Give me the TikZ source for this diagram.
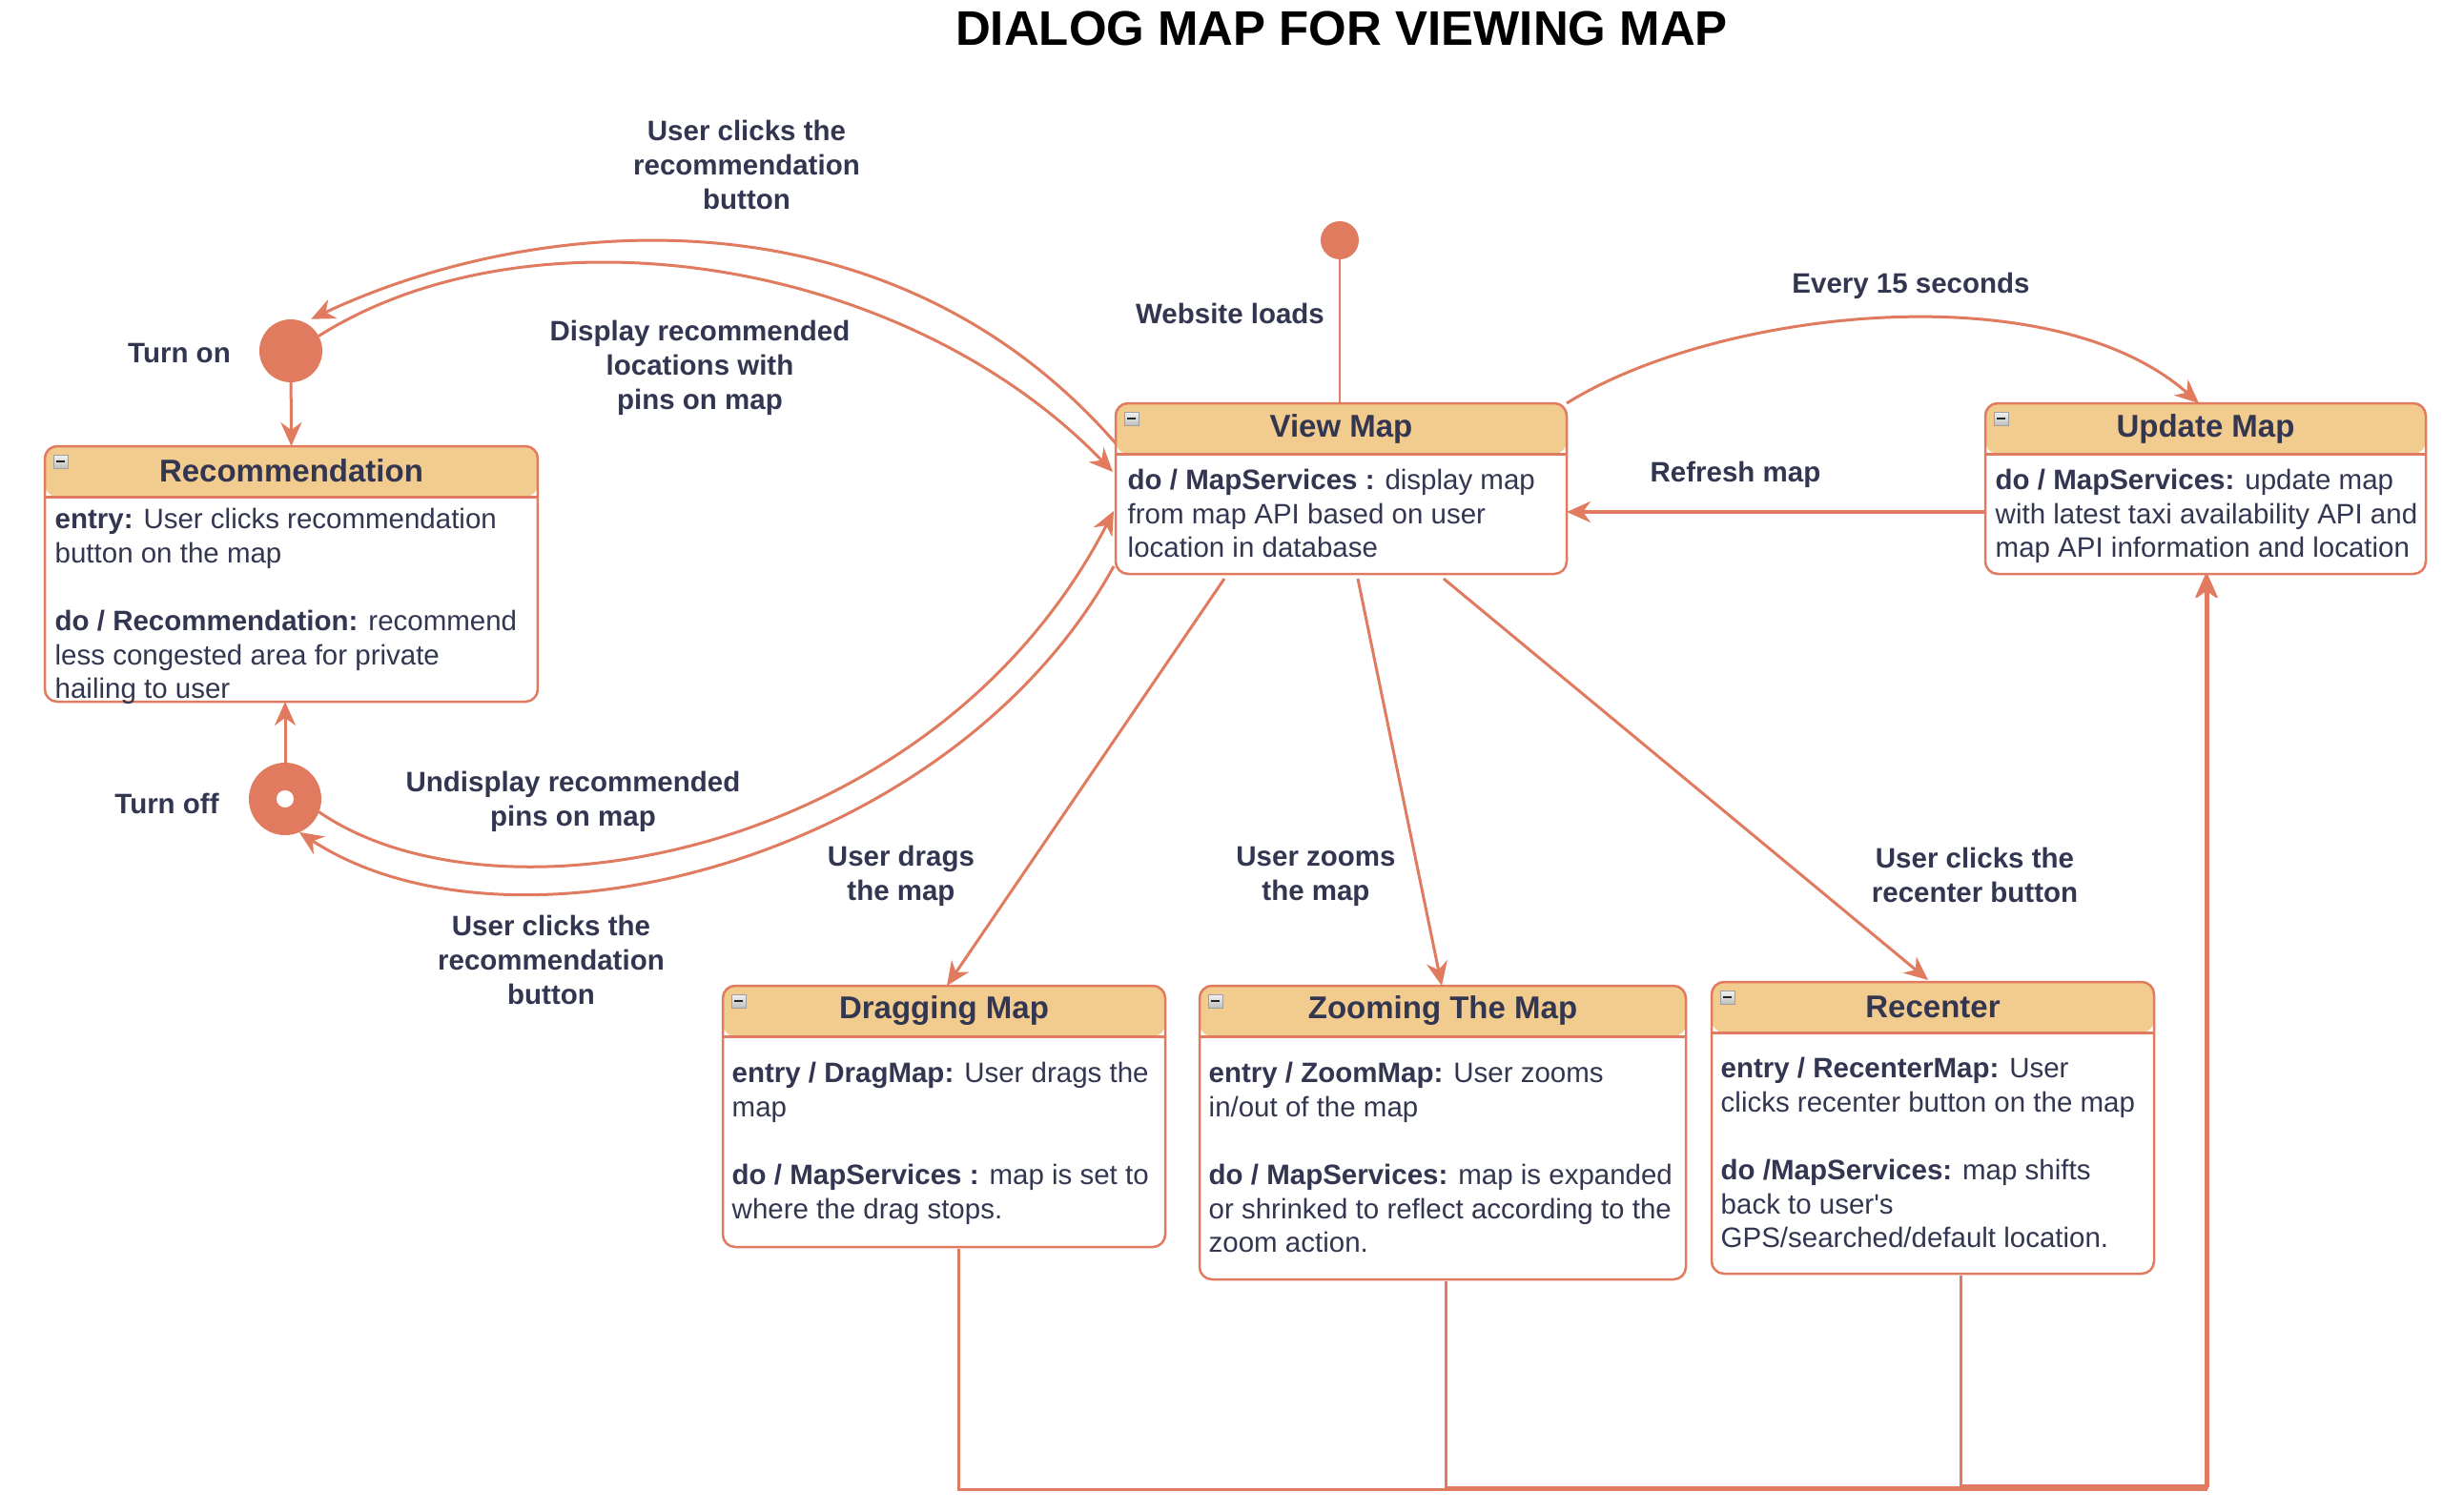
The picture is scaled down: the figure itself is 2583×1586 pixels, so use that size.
\documentclass[tikz,border=0pt]{standalone}
\usepackage{fontspec}
\setmainfont{Liberation Sans}[Ligatures=TeXOff]
\usetikzlibrary{arrows.meta,calc}
\definecolor{lc}{HTML}{E07B5F}
\definecolor{hdr}{HTML}{F2CB8E}
\definecolor{txt}{HTML}{333650}
\begin{document}
\begin{tikzpicture}[x=0.1mm,y=-0.1mm,
  statebox/.style={draw=lc, line width=0.25mm, rounded corners=1.3mm, inner sep=0, outer sep=0, anchor=north west,
    path picture={\fill[hdr] (path picture bounding box.north west) rectangle ([yshift=-5.3mm]path picture bounding box.north east);
      \draw[lc, line width=0.3mm] ([yshift=-5.3mm]path picture bounding box.north west) -- ([yshift=-5.3mm]path picture bounding box.north east);}},
  hdrtext/.style={font=\bfseries\fontsize{9.39}{11}\selectfont, text=txt, inner sep=0},
  body/.style={font=\fontsize{8.39}{10.13}\selectfont, text=txt, align=left, inner sep=0, anchor=north west},
  lab/.style={font=\bfseries\fontsize{8.39}{10.24}\selectfont, text=txt, align=center, inner sep=0},
  conn/.style={draw=lc, line width=0.3mm, -{Stealth[length=2.5mm,width=2.2mm,inset=0.8mm]}},
  dot/.style={circle, fill=lc, inner sep=0, outer sep=0}
]
\useasboundingbox (0,0) rectangle (2583,1586);
\fill[white] (0,0) rectangle (2583,1586);

% title
\node[font=\bfseries\fontsize{14.5}{17}\selectfont, text=black, inner sep=0] (title) at (1407,30) {DIALOG MAP FOR VIEWING MAP};

% state boxes
\node[statebox, minimum width=51.7mm, minimum height=26.8mm] (rec) at (47,468) {};
\node[statebox, minimum width=47.3mm, minimum height=17.9mm] (view) at (1170,423) {};
\node[statebox, minimum width=46.2mm, minimum height=17.9mm] (upd) at (2082,423) {};
\node[statebox, minimum width=46.4mm, minimum height=27.4mm] (drag) at (758,1034) {};
\node[statebox, minimum width=51.0mm, minimum height=30.8mm] (zoom) at (1258,1034) {};
\node[statebox, minimum width=46.4mm, minimum height=30.6mm] (recen) at (1795,1030) {};

% collapse icons
\foreach \b in {rec,view,upd,drag,zoom,recen}{
  \shade[top color=gray!10, bottom color=gray!50, draw=gray!75, line width=0.1mm] ($(\b.north west)+(9,9)$) rectangle ++(15,14);
  \draw[black!85, line width=0.2mm] ($(\b.north west)+(12,16)$) -- ++(9,0);
}

% header titles
\node[hdrtext] (recT) at (305.5,494) {Recommendation};
\node[hdrtext] (viewT) at (1406.5,450) {View Map};
\node[hdrtext] (updT) at (2313,450) {Update Map};
\node[hdrtext] (dragT) at (990,1060) {Dragging Map};
\node[hdrtext] (zoomT) at (1513,1060) {Zooming The Map};
\node[hdrtext] (recenT) at (2027,1056) {Recenter};

% body texts
\node[body] (recB) at (57,529) {\strut\textbf{entry:} User clicks recommendation\\button on the map\\[10.13pt]\textbf{do / Recommendation:} recommend\\less congested area for private\\hailing to user};
\node[body] (viewB) at (1182,488) {\strut\textbf{do / MapServices :} display map\\from map API based on user\\location in database};
\node[body] (updB) at (2092,488) {\strut\textbf{do / MapServices:} update map\\with latest taxi availability API and\\map API information and location};
\node[body] (dragB) at (767,1110) {\strut\textbf{entry / DragMap:} User drags the\\map\\[10.13pt]\textbf{do / MapServices :} map is set to\\where the drag stops.};
\node[body] (zoomB) at (1267,1110) {\strut\textbf{entry / ZoomMap:} User zooms\\in/out of the map\\[10.13pt]\textbf{do / MapServices:} map is expanded\\or shrinked to reflect according to the\\zoom action.};
\node[body] (recenB) at (1804,1105) {\strut\textbf{entry / RecenterMap:} User\\clicks recenter button on the map\\[10.13pt]\textbf{do /MapServices:} map shifts\\back to user's\\GPS/searched/default location.};

% pseudo states
\node[dot, minimum size=4mm] (init) at (1405,252) {};
\node[dot, minimum size=6.6mm] (on) at (305,368) {};
\node[dot, minimum size=7.6mm] (off) at (299,838) {};
\node[circle, fill=white, inner sep=0, minimum size=1.8mm] (offc) at (off) {};

% connectors
\draw[draw=lc, line width=0.15mm] (init) -- (init |- view.north);
\draw[conn] (on) -- (rec.north);
\draw[conn] (off) -- (off |- rec.south);
\draw[conn, shorten >=0.8mm] ($(view.north west)+(0,42)$) .. controls (930,190) and (560,225) .. (on.65);
\draw[conn] (on.28) .. controls (560,210) and (950,270) .. ($(view.north west)+(-3,72)$);
\draw[conn] (off.-21) .. controls (520,980) and (980,900) .. ($(view.north west)+(-2,113)$);
\draw[conn] ($(view.south west)+(-2,-8)$) .. controls (1000,900) and (540,1020) .. (off.-67);
\draw[conn] (view.north east) .. controls (1800,325) and (2150,285) .. ($(upd.north)+(-7,0)$);
\draw[conn, line width=0.4mm] ($(upd.north west)+(0,114)$) -- ($(view.north east)+(0,114)$);
\draw[conn] ($(view.south west)+(114,5)$) -- ($(drag.north west)+(235,0)$);
\draw[conn] ($(view.south west)+(254,5)$) -- ($(zoom.north west)+(254,0)$);
\draw[conn] ($(view.south west)+(344,5)$) -- ($(recen.north west)+(227,-2)$);
\draw[conn] ($(drag.south west)+(247,2)$) |- ($(upd.south)+(0,960)$) -- (upd.south);
\draw[conn] ($(zoom.south west)+(258,2)$) |- ($(upd.south)+(1,958)$) -- ($(upd.south)+(1,0)$);
\draw[conn] ($(recen.south west)+(261,2)$) |- ($(upd.south)+(2,956)$) -- ($(upd.south)+(2,0)$);

% labels
\node[lab] (labA) at (783,173) {User clicks the\\recommendation\\button};
\node[lab] (labB) at (734,386) {Display recommended\\locations with\\pins on map};
\node[lab] (labC) at (601,841) {Undisplay recommended\\pins on map};
\node[lab] (labD) at (578,1007) {User clicks the\\recommendation\\button};
\node[lab] (labOn) at (188,370) {Turn on};
\node[lab] (labOff) at (175,843) {Turn off};
\node[lab] (labWeb) at (1290,329) {Website loads};
\node[lab] (labEvery) at (2004,300) {Every 15 seconds};
\node[lab] (labRef) at (1820,498) {Refresh map};
\node[lab] (labDrag) at (945,919) {User drags\\the map};
\node[lab] (labZoom) at (1380,919) {User zooms\\the map};
\node[lab] (labRecen) at (2071,918) {User clicks the\\recenter button};
\end{tikzpicture}
\end{document}
